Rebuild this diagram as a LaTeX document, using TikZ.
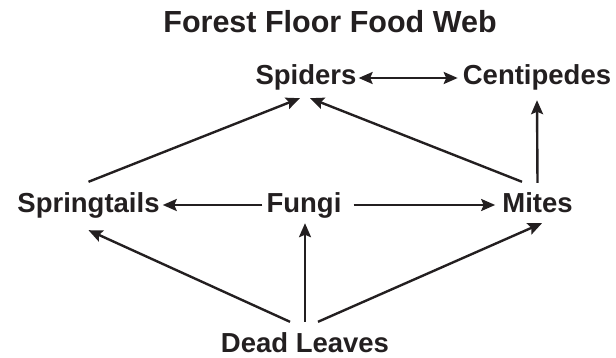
\documentclass[tikz,border=0pt]{standalone}
\usepackage{fontspec}
\setmainfont{Liberation Sans}
\usetikzlibrary{arrows.meta}
\definecolor{ink}{HTML}{231F20}
\tikzset{
  organism/.style={font=\fontsize{27.5}{30}\selectfont\bfseries, text=ink,
    inner sep=0pt, text height=18pt, text depth=0pt, anchor=base},
  heading/.style={font=\fontsize{30.5}{34}\selectfont\bfseries, text=ink,
    inner sep=0pt, anchor=base},
  feeds/.style={-{Stealth[length=14pt,width=12pt,inset=2.5pt]}, line width=2.4pt, draw=ink},
  mutual/.style={{Stealth[length=14pt,width=12pt,inset=2.5pt]}-{Stealth[length=14pt,width=12pt,inset=2.5pt]},
    line width=2.4pt, draw=ink}
}
\begin{document}
\begin{tikzpicture}[x=1pt,y=-1pt]
    \useasboundingbox (0,0) rectangle (616,358);
    \node[heading] (title) at (330,33) {Forest Floor Food Web};
    \node[organism] (spiders) at (306,85) {Spiders};
    \node[organism] (centipedes) at (537,85) {Centipedes};
    \node[organism] (springtails) at (88.5,213) {Springtails};
    \node[organism] (fungi) at (304,213) {Fungi};
    \node[organism] (mites) at (537.5,213) {Mites};
    \node[organism] (leaves) at (305,352.5) {Dead Leaves};
    \draw[mutual] ([xshift=2pt,yshift=7pt]spiders.base east) -- ([xshift=-5pt,yshift=7pt]centipedes.base west);
    \draw[feeds] ([xshift=-4pt,yshift=8pt]fungi.base west) -- ([xshift=3pt,yshift=8pt]springtails.base east);
    \draw[feeds] ([xshift=12pt,yshift=8pt]fungi.base east) -- ([xshift=-7pt,yshift=8pt]mites.base west);
    \draw[feeds] ([yshift=13pt]springtails.north) -- ([xshift=-6pt,yshift=-13pt]spiders.south);
    \draw[feeds] ([xshift=-15.5pt,yshift=13pt]mites.north) -- ([xshift=4pt,yshift=-13pt]spiders.south);
    \draw[feeds] ([yshift=12pt]mites.north) -- ([yshift=-15pt]centipedes.south);
    \draw[feeds] ([xshift=-15pt,yshift=12.5pt]leaves.north) -- ([yshift=-17pt]springtails.south);
    \draw[feeds] ([yshift=12.5pt]leaves.north) -- ([xshift=1pt,yshift=-10pt]fungi.south);
    \draw[feeds] ([xshift=13pt,yshift=12.5pt]leaves.north) -- ([xshift=4.5pt,yshift=-10pt]mites.south);
\end{tikzpicture}
\end{document}
